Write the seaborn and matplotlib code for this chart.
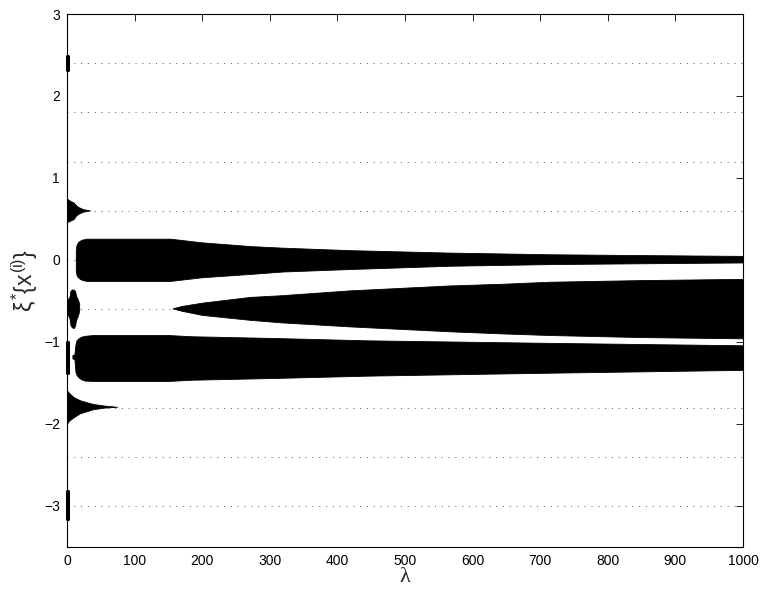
import matplotlib
matplotlib.use("Agg")
import matplotlib.pyplot as plt
import seaborn as sns
import numpy as np
import pandas as pd

# niveaux des lignes pointillees
ref_levels = [2.4, 1.8, 1.2, 0.6, 0.0, -0.6, -1.2, -1.8, -2.4, -3.0]

# bande autour de 0
band_a_lam = [13, 14, 16, 19, 23, 29, 153, 200, 271, 320, 419, 567, 643, 714, 850, 1000]
band_a_hi = [0.12, 0.18, 0.215, 0.235, 0.25, 0.26, 0.26, 0.215, 0.17, 0.15, 0.12, 0.09, 0.08, 0.07, 0.06, 0.05]
band_a_lo = [-0.12, -0.18, -0.21, -0.23, -0.245, -0.255, -0.255, -0.21, -0.17, -0.14, -0.11, -0.07, -0.06, -0.05, -0.04, -0.03]

# coin autour de -0.6
band_b_lam = [156, 170, 200, 271, 316, 419, 567, 643, 714, 850, 1000]
band_b_hi = [-0.59, -0.56, -0.52, -0.45, -0.43, -0.37, -0.31, -0.29, -0.265, -0.245, -0.23]
band_b_lo = [-0.59, -0.62, -0.67, -0.73, -0.76, -0.81, -0.87, -0.895, -0.915, -0.94, -0.955]

# bande autour de -1.2
band_c_lam = [8, 11, 12.5, 14, 17, 21, 26, 38, 150, 185, 300, 447, 709, 1000]
band_c_hi = [-1.16, -1.15, -1.03, -0.98, -0.955, -0.935, -0.925, -0.915, -0.915, -0.93, -0.95, -0.98, -1.01, -1.04]
band_c_lo = [-1.20, -1.21, -1.36, -1.40, -1.43, -1.455, -1.47, -1.475, -1.475, -1.46, -1.44, -1.41, -1.375, -1.34]

# petites structures a gauche
blob_lam = [0, 2, 4, 5, 7, 10, 12, 13.5, 16, 18]
blob_hi = [-0.50, -0.47, -0.44, -0.38, -0.36, -0.36, -0.38, -0.44, -0.48, -0.53]
blob_lo = [-0.64, -0.68, -0.72, -0.79, -0.82, -0.83, -0.80, -0.73, -0.68, -0.62]

tri_up_lam = [0.5, 5, 10, 13, 17, 24, 34]
tri_up_hi = [0.745, 0.72, 0.70, 0.67, 0.645, 0.62, 0.605]
tri_up_lo = [0.465, 0.48, 0.50, 0.54, 0.565, 0.59, 0.605]

tail_lam = [0.5, 3, 9.4, 19, 38.5, 55, 74]
tail_hi = [-1.595, -1.62, -1.67, -1.71, -1.756, -1.775, -1.79]
tail_lo = [-1.99, -1.96, -1.92, -1.87, -1.82, -1.80, -1.79]

bars_lam = [0, 2]
bars_hi = [2.49, -1.0, -2.82]
bars_lo = [2.315, -1.38, -3.16]

xticks = list(range(0, 1001, 100))
yticks = [-3, -2, -1, 0, 1, 2, 3]

sns.set_style("white")
plt.rcParams['font.family'] = ['Liberation Sans', 'DejaVu Sans']
plt.rcParams['mathtext.fontset'] = 'custom'
plt.rcParams['mathtext.rm'] = 'Liberation Sans'
plt.rcParams['mathtext.it'] = 'Liberation Sans'

fig = plt.figure(figsize=(7.62, 5.93), dpi=100)
ax = fig.add_axes([67 / 762, 46 / 593, 676 / 762, 533 / 593])

for lv in ref_levels:
    ax.axhline(lv, color='#555555', lw=0.7, linestyle=(0, (1, 6)), zorder=1)

shapes = [
    (band_a_lam, band_a_lo, band_a_hi),
    (band_b_lam, band_b_lo, band_b_hi),
    (band_c_lam, band_c_lo, band_c_hi),
    (blob_lam, blob_lo, blob_hi),
    (tri_up_lam, tri_up_lo, tri_up_hi),
    (tail_lam, tail_lo, tail_hi),
]
for lam, lo, hi in shapes:
    ax.fill_between(lam, lo, hi, color='black', lw=0.6, edgecolor='black', zorder=2)

# petites barres verticales sur l'axe
for lo, hi in zip(bars_lo, bars_hi):
    ax.fill_between(bars_lam, [lo, lo], [hi, hi], color='black', lw=2.2,
                    edgecolor='black', zorder=4, clip_on=False)

ax.set_xlim(0, 1000)
ax.set_ylim(-3.5, 3)
ax.set_xticks(xticks)
ax.set_yticks(yticks)
ax.set_yticklabels([str(t).replace('-', '\u2212') for t in yticks])
ax.tick_params(direction='in', top=True, right=True, length=5, width=0.6,
               labelsize=10, colors='black', pad=5)
for s in ax.spines.values():
    s.set_color('black')
    s.set_linewidth(0.8)

ax.set_xlabel('\u03bb', fontsize=16, labelpad=0, family='Liberation Serif')
ax.set_ylabel(r'$\xi^{*}\{x^{(i)}\}$', fontsize=16.5, labelpad=3)

fig.savefig('out.png', dpi=100)
